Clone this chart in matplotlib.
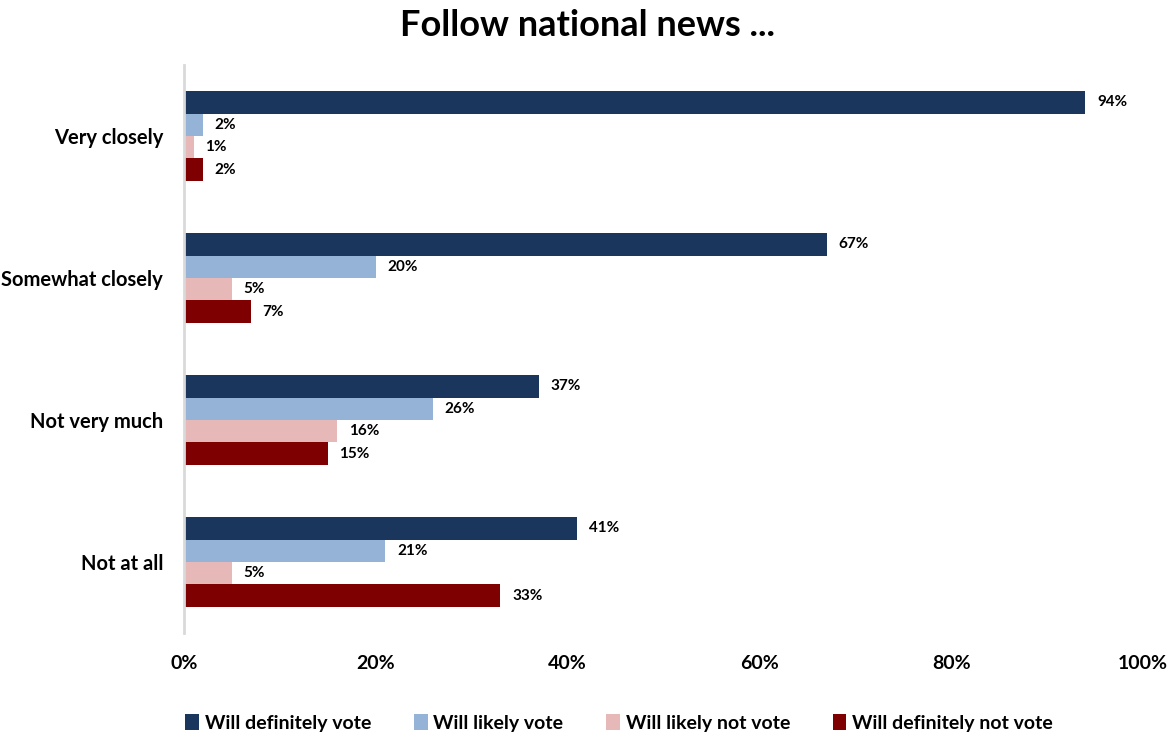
import matplotlib.pyplot as plt
import numpy as np

plt.rcParams['font.family'] = ['Lato', 'DejaVu Sans']
plt.rcParams['font.weight'] = 'bold'

# Survey data (percent)
categories = ['Very closely', 'Somewhat closely', 'Not very much', 'Not at all']
series_names = ['Will definitely vote', 'Will likely vote',
                'Will likely not vote', 'Will definitely not vote']
definitely_vote = [94, 67, 37, 41]
likely_vote = [2, 20, 26, 21]
likely_not_vote = [1, 5, 16, 5]
definitely_not_vote = [2, 7, 15, 33]
colors = ['#1b365d', '#95b3d7', '#e6b9b8', '#7f0000']
x_ticks = [0, 20, 40, 60, 80, 100]

series = [definitely_vote, likely_vote, likely_not_vote, definitely_not_vote]

fig = plt.figure(figsize=(11.75, 7.4), dpi=100)
ax = fig.add_axes([0.1566, 0.1446, 0.8162, 0.7676])

y = np.arange(len(categories))
h = 0.158
for i, (vals, color, name) in enumerate(zip(series, colors, series_names)):
    pos = y + (i - 1.5) * h
    ax.barh(pos, vals, height=h, color=color, label=name)
    for p, v in zip(pos, vals):
        ax.text(v + 1.2, p, f'{v}%', va='center', ha='left',
                fontsize=11, fontweight='bold')

ax.set_xlim(0, 100)
ax.set_ylim(len(categories) - 0.5, -0.5)
ax.set_yticks(y)
ax.set_yticklabels(categories, fontsize=14.5, fontweight='bold')
ax.set_xticks(x_ticks)
ax.set_xticklabels([f'{t}%' for t in x_ticks], fontsize=14, fontweight='bold')
ax.tick_params(axis='both', length=0)
ax.tick_params(axis='x', pad=16)
ax.tick_params(axis='y', pad=15)

for s in ['top', 'right', 'bottom']:
    ax.spines[s].set_visible(False)
ax.spines['left'].set_color('#d9d9d9')
ax.spines['left'].set_linewidth(2)

fig.suptitle('Follow national news ...', fontsize=26, fontweight='bold', y=0.988)

fig.legend(loc='lower center', ncol=4, bbox_to_anchor=(0.527, -0.013),
           frameon=False, fontsize=14, handlelength=0.7, handleheight=0.9,
           handletextpad=0.3, columnspacing=2.2)

fig.savefig('out.png', dpi=100)
